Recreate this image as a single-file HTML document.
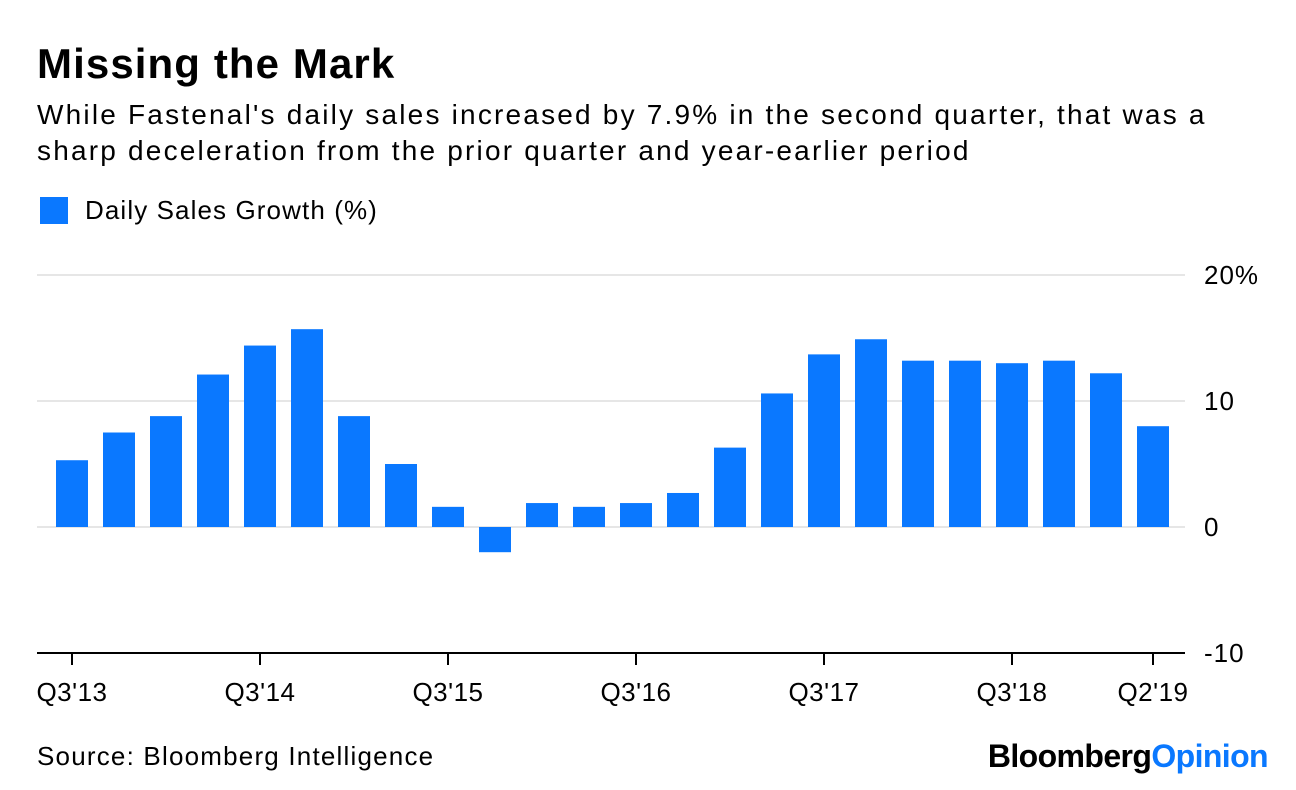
<!DOCTYPE html>
<html><head><meta charset="utf-8"><style>
body{margin:0;background:#fff;width:1296px;height:790px;overflow:hidden;font-family:"Liberation Sans",Arial,sans-serif;color:#000}
.t{position:absolute;left:37px;top:40px;font-size:42px;font-weight:bold;letter-spacing:1.1px}
.s{position:absolute;left:37px;top:97px;font-size:28px;line-height:36px;width:1250px;letter-spacing:2.2px}
.lg{position:absolute;left:40px;top:197px;width:28px;height:27px;background:#0a78ff}
.lt{position:absolute;left:85px;top:195px;font-size:26px;letter-spacing:1.1px}
.src{position:absolute;left:37px;top:741px;font-size:26px;letter-spacing:1.2px}
.logo{position:absolute;right:28px;top:738px;font-size:32px;font-weight:bold;letter-spacing:-0.6px}
</style></head><body>
<div class="t">Missing the Mark</div>
<div class="s">While Fastenal's daily sales increased by 7.9% in the second quarter, that was a<br>sharp deceleration from the prior quarter and year-earlier period</div>
<div class="lg"></div>
<div class="lt">Daily Sales Growth (%)</div>
<svg id="c" width="1296" height="790" style="position:absolute;left:0;top:0"></svg>
<div class="src">Source: Bloomberg Intelligence</div>
<div class="logo">Bloomberg<span style="color:#0a78ff">Opinion</span></div>
<script>
const values=[5.3,7.5,8.8,12.1,14.4,15.7,8.8,5.0,1.6,-2.0,1.9,1.6,1.9,2.7,6.3,10.6,13.7,14.9,13.2,13.2,13.0,13.2,12.2,8.0];
const yTicks=[20,10,0,-10];
const yTickLabels=["20%","10","0","-10"];
const xLabelIdx=[0,4,8,12,16,20,23];
const xLabels=["Q3'13","Q3'14","Q3'15","Q3'16","Q3'17","Q3'18","Q2'19"];
const NS="http://www.w3.org/2000/svg",svg=document.getElementById('c');
const y=v=>527-v*12.6, x=i=>72+i*47;
function mk(t,a){const e=document.createElementNS(NS,t);for(const k in a)e.setAttribute(k,a[k]);svg.appendChild(e);return e;}
yTicks.forEach((v,i)=>{
 if(v!==-10){const g=mk('line',{x1:37,x2:1185,y1:y(v),y2:y(v),stroke:'#e6e6e6','stroke-width':2});
 
 }
 const t=mk('text',{x:1204,y:y(v)+9,'font-size':26,'letter-spacing':1});t.textContent=yTickLabels[i];
 
 
});
values.forEach((v,i)=>{
 const r=mk('rect',{x:x(i)-16,width:32,y:Math.min(y(v),y(0)),height:Math.abs(y(v)-y(0)),fill:'#0a78ff'});
 
 
});
const ax=mk('line',{x1:37,x2:1185,y1:y(-10),y2:y(-10),stroke:'#000','stroke-width':2});


xLabelIdx.forEach((idx,i)=>{
 const tk=mk('line',{x1:x(idx),x2:x(idx),y1:y(-10),y2:y(-10)+12,stroke:'#000','stroke-width':2});
 
 
 const t=mk('text',{x:x(idx),y:701,'font-size':26,'text-anchor':'middle','letter-spacing':0.5});t.textContent=xLabels[i];
 
 
});
</script>
</body></html>
